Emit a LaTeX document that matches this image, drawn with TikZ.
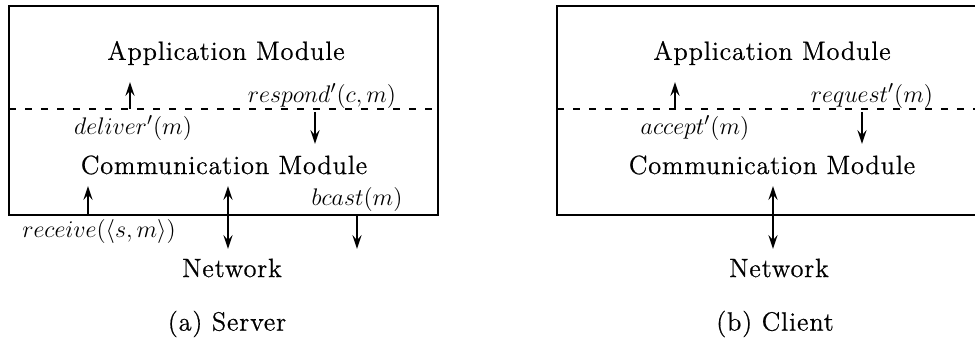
\documentclass[tikz,border=0pt]{standalone}
\usepackage{fontspec}
\setmainfont{Latin Modern Roman}[LetterSpace=3,FakeBold=0.6]
\usetikzlibrary{arrows.meta}
\tikzset{
  tip/.tip={Stealth[length=7pt,width=4.6pt,inset=2.6pt]},
  frame/.style={line width=1.1pt},
  divider/.style={line width=0.9pt, dash pattern=on 3.5pt off 4.5pt},
  flow/.style={line width=1pt, -tip},
  bflow/.style={line width=1pt, tip-tip},
  modtext/.style={inner sep=0pt, font=\fontsize{13.2}{15}\selectfont},
  lbl/.style={inner sep=0pt, font=\fontsize{12.5}{14}\selectfont},
}
\begin{document}
\begin{tikzpicture}[x=0.5pt,y=-0.5pt]
\useasboundingbox (0,0) rectangle (975,341);
\clip (0,0) rectangle (975,341);
% ---------- (a) Server ----------
\draw[frame] (9,6) rectangle (438,215);
\coordinate (dl1) at (9,109);
\coordinate (dr1) at (438,109);
\draw[divider] (dl1) -- (dr1);
\node[modtext] (app1) at (226,53) {Application Module};
\node[modtext] (com1) at (224,165) {Communication Module};
\node[modtext] (net1) at (232,268) {Network};
\node[modtext] (cap1) at (227,324) {(a) Server};
\node[lbl] (del1) at (133,128) {$deliver'(m)$};
\node[lbl] (res1) at (322,96) {$respond'(c,m)$};
\node[lbl] (bc1) at (357,200) {$bcast(m)$};
\node[lbl] (rec1) at (99,232) {$receive(\langle s,m\rangle)$};
\coordinate (a1s) at (130,109); \coordinate (a1e) at (130,82);
\draw[flow] (a1s) -- (a1e);
\coordinate (a2s) at (315,112); \coordinate (a2e) at (315,144);
\draw[flow] (a2s) -- (a2e);
\coordinate (a3s) at (88,214); \coordinate (a3e) at (88,186);
\draw[flow] (a3s) -- (a3e);
\coordinate (a4s) at (228,186); \coordinate (a4e) at (228,249);
\draw[bflow] (a4s) -- (a4e);
\coordinate (a5s) at (357,216); \coordinate (a5e) at (357,249);
\draw[flow] (a5s) -- (a5e);
% ---------- (b) Client ----------
\draw[frame] (557,6) rectangle (990,215);
\coordinate (dl2) at (557,109);
\coordinate (dr2) at (990,109);
\draw[divider] (dl2) -- (dr2);
\node[modtext] (app2) at (772,53) {Application Module};
\node[modtext] (com2) at (772,165) {Communication Module};
\node[modtext] (net2) at (779,268) {Network};
\node[modtext] (cap2) at (775,324) {(b) Client};
\node[lbl] (acc2) at (695,128) {$accept'(m)$};
\node[lbl] (req2) at (872,96) {$request'(m)$};
\coordinate (b1s) at (675,109); \coordinate (b1e) at (675,82);
\draw[flow] (b1s) -- (b1e);
\coordinate (b2s) at (862,112); \coordinate (b2e) at (862,144);
\draw[flow] (b2s) -- (b2e);
\coordinate (b3s) at (773,186); \coordinate (b3e) at (773,249);
\draw[bflow] (b3s) -- (b3e);
\end{tikzpicture}
\end{document}
